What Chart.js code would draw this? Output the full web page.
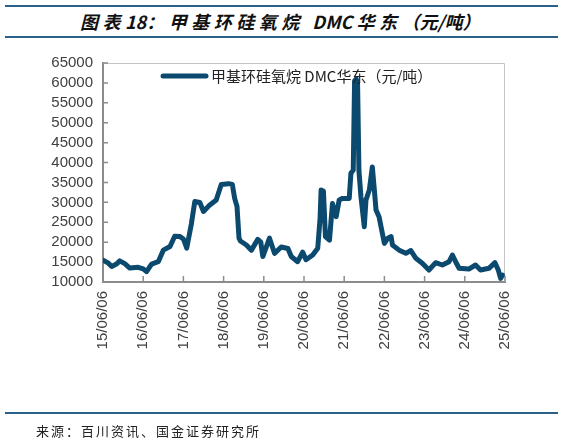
<!DOCTYPE html>
<html>
<head>
<meta charset="utf-8">
<script src="https://cdn.jsdelivr.net/npm/chart.js@4.4.1/dist/chart.umd.min.js"></script>
<style>
  body { margin: 0; width: 563px; height: 440px; background: #fff; position: relative; overflow: hidden; }
  .rule { position: absolute; left: 5px; width: 553px; height: 2px; background: #2b6088; }
  #title { position: absolute; left: 80px; top: 8px; font: italic bold 18px "Noto Sans CJK SC"; letter-spacing: 4.5px; color: #111; white-space: nowrap; }
  #title .lat { letter-spacing: 0; }
  #source { position: absolute; left: 36px; top: 421px; font: 13px "Noto Sans CJK SC"; letter-spacing: 2px; color: #222; white-space: nowrap; }
  #wrap { position: absolute; left: 0; top: 0; width: 563px; height: 440px; }
</style>
</head>
<body>
<div class="rule" style="top:5px"></div>
<div id="title">图表<span class="lat">18</span>：甲基环硅氧烷 <span class="lat">DMC </span>华东<span class="lat">（元/吨）</span></div>
<div class="rule" style="top:36px"></div>
<div id="wrap"><canvas id="dmcChart" width="563" height="440"></canvas></div>
<div class="rule" style="top:412px"></div>
<div id="source">来源：百川资讯、国金证券研究所</div>

<script>
/* ----- data: months since 2015-06-06, price in 元/吨 ----- */
const seriesName = '甲基环硅氧烷 DMC华东（元/吨）';
const months = [0, 1.5, 2.6, 4, 5, 6.5, 8, 10.5, 12, 13, 14.5, 16.5, 18, 20, 21.4, 23, 24, 25,
  26.4, 27.4, 28.9, 30, 31.8, 33.8, 35.3, 37.5, 38.6, 39.3, 40, 40.6, 41, 42.8, 44.3, 46.2,
  47.1, 47.7, 49.7, 51.2, 53.2, 55.2, 56.2, 58.1, 59.6, 60.6, 62.6, 64.1, 64.8, 65.1, 65.8,
  66.4, 67.6, 68.5, 69.6, 70.5, 71.5, 73.5, 74, 74.7, 75.1, 75.6, 76.0, 76.4, 77, 78, 78.5,
  79.5, 80.4, 81, 81.5, 82.4, 83.4, 84, 85, 86, 86.4, 88.4, 90.4, 91.9, 93.4, 95.3, 97.3,
  99.3, 101.3, 103.3, 104.3, 105.5, 106.3, 109.2, 111.2, 112.7, 115.2, 117, 118, 118.7, 119.2];
const prices = [15500, 14800, 13900, 14500, 15300, 14600, 13500, 13700, 13300, 12600, 14500, 15100, 18000, 18900, 21500, 21400, 20800, 18500,
  24700, 30200, 30000, 27700, 29300, 30600, 34500, 34700, 34500, 31000, 29000, 21000, 20300, 19300, 18000, 20700,
  20000, 16400, 21000, 17200, 18800, 18400, 16400, 15100, 17500, 15600, 16800, 18500, 26000, 33100, 32800,
  21400, 20500, 29700, 26400, 30600, 31000, 31000, 37300, 38100, 60500, 61000, 59500, 38000, 31400, 23900, 30600,
  33100, 38900, 33100, 28100, 26400, 22200, 19700, 21000, 21400, 19300, 18000, 17200, 17900, 15950, 14700, 13000,
  14850, 14270, 15100, 16780, 14700, 13440, 13260, 14270, 13000, 13440, 14850, 13000, 10900, 11750];
const yMin = 10000, yMax = 65000, yStep = 5000;
const xTickStep = 12; // one label each June

const lineColor = '#0b4a6e';
const axisColor = '#8c8c8c';

/* ----- frame, inward ticks and legend ----- */
const chartDecor = {
  id: 'chartDecor',
  beforeDatasetsDraw(chart) {
    const { ctx, chartArea: a } = chart;
    ctx.save();
    ctx.strokeStyle = '#c4c4c4';
    ctx.lineWidth = 1;
    ctx.beginPath();
    ctx.moveTo(a.left, a.top + 0.5);
    ctx.lineTo(a.right - 0.5, a.top + 0.5);
    ctx.lineTo(a.right - 0.5, a.bottom);
    ctx.stroke();

    ctx.strokeStyle = axisColor;
    ctx.lineWidth = 1.5;
    ctx.beginPath();
    chart.scales.y.ticks.forEach((t, i) => {
      const y = chart.scales.y.getPixelForTick(i);
      ctx.moveTo(a.left, y);
      ctx.lineTo(a.left + 5, y);
    });
    chart.scales.x.ticks.forEach((t, i) => {
      const x = chart.scales.x.getPixelForTick(i);
      ctx.moveTo(x, a.bottom);
      ctx.lineTo(x, a.bottom - 6);
    });
    ctx.stroke();
    ctx.restore();
  },
  afterDraw(chart) {
    const { ctx } = chart;
    ctx.save();
    ctx.strokeStyle = lineColor;
    ctx.lineWidth = 5;
    ctx.lineCap = 'round';
    ctx.beginPath();
    ctx.moveTo(163, 76);
    ctx.lineTo(206, 76);
    ctx.stroke();
    ctx.fillStyle = '#222';
    ctx.font = '15px "Noto Sans CJK SC"';
    ctx.textBaseline = 'middle';
    ctx.fillText(seriesName, 211, 76);
    ctx.restore();
  }
};

const ctx = document.getElementById('dmcChart').getContext('2d');
new Chart(ctx, {
  type: 'line',
  data: {
    datasets: [{
      label: seriesName,
      data: months.map((m, i) => ({ x: m, y: prices[i] })),
      borderColor: lineColor,
      borderWidth: 5,
      borderJoinStyle: 'round',
      borderCapStyle: 'round',
      pointRadius: 0,
      tension: 0,
      fill: false
    }]
  },
  options: {
    responsive: false,
    animation: false,
    layout: { padding: { top: 63, right: 58, left: 0, bottom: 0 } },
    plugins: { legend: { display: false }, tooltip: { enabled: false } },
    scales: {
      x: {
        type: 'linear',
        min: 0,
        max: 120,
        afterFit: s => { s.height = 158; },
        afterBuildTicks: s => {
          s.ticks = [];
          for (let v = 0; v <= 120; v += xTickStep) s.ticks.push({ value: v });
        },
        grid: { drawOnChartArea: false, drawTicks: false },
        border: { color: axisColor, width: 2 },
        ticks: {
          autoSkip: false,
          minRotation: 90,
          maxRotation: 90,
          padding: 9,
          color: '#404040',
          font: { family: 'Liberation Sans', size: 15 },
          callback: v => String(15 + v / 12).padStart(2, '0') + '/06/06'
        }
      },
      y: {
        min: yMin,
        max: yMax,
        afterFit: s => { s.width = 103; },
        afterBuildTicks: s => {
          s.ticks = [];
          for (let v = yMin; v <= yMax; v += yStep) s.ticks.push({ value: v });
        },
        grid: { drawOnChartArea: false, drawTicks: false },
        border: { color: axisColor, width: 2 },
        ticks: {
          autoSkip: false,
          padding: 10,
          color: '#404040',
          font: { family: 'Liberation Sans', size: 15 },
          callback: v => String(v)
        }
      }
    }
  },
  plugins: [chartDecor]
});
</script>
</body>
</html>
